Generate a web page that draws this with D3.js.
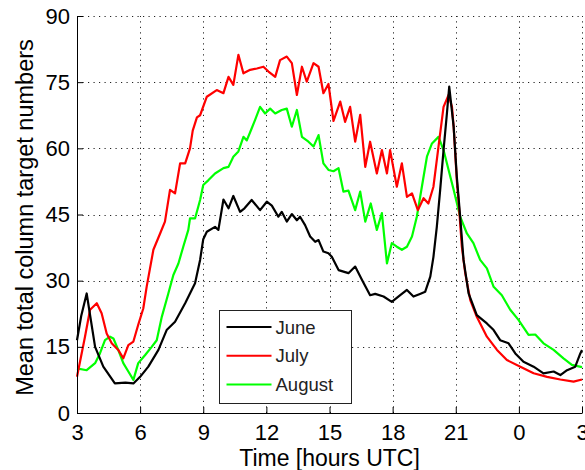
<!DOCTYPE html>
<html>
<head>
<meta charset="utf-8">
<script src="https://cdn.jsdelivr.net/npm/d3@7"></script>
<style>
  body { margin: 0; background: #fff; }
  svg { display: block; font-family: "Liberation Sans", Arial, sans-serif; }
</style>
</head>
<body>
<div class="canvas"></div>
<script>
// Values (hours UTC; values past 24 are the next day)
const xTicks = [3, 6, 9, 12, 15, 18, 21, 24, 27];
const yTicks = [0, 15, 30, 45, 60, 75, 90];
const seriesNames = ['June', 'July', 'August'];

const juneHours = [3.0, 3.2, 3.46, 3.86, 4.25, 4.8, 5.3, 5.68, 6.0, 6.39, 6.87, 7.26, 7.66, 8.14, 8.61, 8.85, 9.0, 9.17, 9.56, 9.72,
  9.96, 10.2, 10.43, 10.75, 10.96, 11.3, 11.7, 12.02, 12.26, 12.57, 12.73, 12.97, 13.21, 13.45, 13.6, 13.84, 14.08, 14.32, 14.48, 14.71,
  14.95, 15.11, 15.43, 15.9, 16.22, 16.54, 16.93, 17.17, 17.57, 17.96, 18.36, 18.68, 18.99, 19.3, 19.55, 19.79, 19.94, 20.1, 20.26, 20.42,
  20.58, 20.69, 20.9, 21.05, 21.21, 21.37, 21.61, 22.0, 22.48, 22.8, 23.11, 23.51, 23.83, 24.22, 24.7, 25.17, 25.65, 25.97, 26.29, 26.68,
  26.92, 27.0];
const juneValues = [16.5, 22, 27.1, 15, 10.5, 6.7, 6.9, 6.7, 8.2, 10.5, 14.3, 18.8, 20.7, 24.9, 29.4, 34.7, 39.4, 41.1, 42.2, 41.5,
  48.4, 46.4, 49.2, 45.6, 46.4, 48.3, 46, 47.9, 47, 44.5, 45.6, 43.4, 45.1, 43.7, 44.5, 42.6, 40, 38.8, 39.2, 36.6,
  36.2, 35.4, 32.4, 31.7, 33.2, 30.2, 26.7, 27, 26.4, 25.2, 26.7, 27.9, 26.4, 27, 27.5, 30.9, 35.4, 42.2, 50.6, 59.6,
  67.9, 74, 64.9, 53.6, 44.5, 34.7, 27.1, 22.2, 20.3, 18.8, 16.5, 15.8, 13.5, 11.6, 10.5, 9.0, 9.4, 8.6, 9.7, 10.5,
  13.5, 14.3];

const julyHours = [3.0, 3.38, 3.62, 3.94, 4.17, 4.41, 4.65, 4.96, 5.2, 5.44, 5.68, 5.91, 6.15, 6.31, 6.63, 6.95, 7.18, 7.42, 7.66, 7.9,
  8.14, 8.37, 8.5, 8.7, 8.85, 9.17, 9.64, 9.96, 10.2, 10.43, 10.67, 10.91, 11.23, 11.55, 11.86, 12.1, 12.42, 12.65, 12.97, 13.21,
  13.45, 13.69, 13.92, 14.24, 14.48, 14.71, 14.95, 15.19, 15.51, 15.74, 15.98, 16.22, 16.46, 16.7, 16.93, 17.25, 17.49, 17.73, 17.88, 18.2,
  18.44, 18.68, 18.92, 19.2, 19.47, 19.7, 19.94, 20.18, 20.42, 20.66, 20.82, 20.9, 21.05, 21.13, 21.29, 21.45, 21.69, 22.0, 22.48, 22.96,
  23.43, 24.07, 24.7, 25.34, 25.97, 26.6, 27.0];
const julyValues = [8.2, 17.3, 23.4, 24.9, 22.6, 18, 15.8, 14.3, 12.4, 15.4, 16.2, 20, 23.7, 28.6, 37, 40.7, 43.4, 50.6, 49.8, 56.6,
  56.6, 60, 64, 67, 67.5, 71.7, 73.2, 72.5, 76.2, 74.4, 81.2, 77, 77.8, 78.1, 78.5, 77.4, 76.2, 80, 80.8, 79.3,
  72.1, 78.5, 75.1, 79.3, 78.5, 72.5, 74.6, 66.2, 70.6, 66, 69.4, 61.5, 67.6, 55.8, 61.5, 54.3, 59.6, 54.3, 59.6, 51.3,
  56.6, 49, 49.8, 46, 48.7, 47.5, 51.3, 60.4, 69.4, 72.1, 69.4, 64.9, 52.8, 48.3, 37.7, 31.7, 25.6, 21.8, 17.3, 14.3,
  12, 10.5, 9.0, 8.2, 7.6, 7.1, 7.6];

const augustHours = [3.0, 3.46, 3.86, 4.09, 4.33, 4.57, 4.73, 4.96, 5.2, 5.44, 5.68, 5.91, 6.23, 6.55, 6.79, 7.03, 7.34, 7.58, 7.82, 8.05,
  8.29, 8.37, 8.61, 8.85, 9.0, 9.25, 9.56, 9.96, 10.2, 10.43, 10.67, 10.91, 11.07, 11.3, 11.46, 11.7, 11.94, 12.18, 12.42, 12.73,
  12.97, 13.21, 13.45, 13.69, 14.0, 14.24, 14.48, 14.71, 14.95, 15.19, 15.43, 15.66, 15.9, 16.22, 16.46, 16.7, 16.96, 17.25, 17.49, 17.73,
  17.96, 18.2, 18.44, 18.68, 18.92, 19.15, 19.39, 19.63, 19.87, 20.18, 20.42, 20.66, 20.9, 21.21, 21.53, 21.84, 22.16, 22.48, 22.8, 23.19,
  23.59, 23.98, 24.46, 24.78, 25.17, 25.65, 26.12, 26.52, 27.0];
const augustValues = [10.1, 9.7, 11.3, 13.5, 16.5, 17.3, 16.9, 14.3, 11.3, 9.4, 7.5, 11.3, 13.1, 15, 16.5, 21.8, 27.1, 31.3, 33.9, 37.7,
  41.5, 44.1, 44.1, 48.3, 51.7, 52.8, 54.3, 55.5, 55.8, 58.1, 59.3, 62.6, 61.8, 64.5, 66.4, 69.4, 67.9, 69, 67.9, 68.7,
  69, 64.9, 68.7, 62.6, 61.5, 60.4, 63, 56.6, 55.1, 54.8, 55.5, 50.2, 50.4, 46, 50.2, 43.4, 47.5, 41.5, 45.3, 33.9,
  38.5, 37.7, 37, 37.7, 40, 44.5, 51.3, 58.1, 61.1, 62.6, 59.6, 55.1, 50.6, 44.5, 40.7, 38.5, 34.7, 32.8, 28.6, 26.7,
  23.4, 21.1, 17.7, 17.8, 15.8, 14.3, 12.4, 10.9, 10.4];

const svgWidth = 585;
const svgHeight = 470;
const margin = { top: 16, right: 3, bottom: 57, left: 77 };

const svg = d3.select('.canvas')
    .append('svg')
    .attr('width', svgWidth)
    .attr('height', svgHeight);

const x = d3.scaleLinear()
    .domain([3, 27])
    .range([margin.left, svgWidth - margin.right]);

const y = d3.scaleLinear()
    .domain([0, 90])
    .range([svgHeight - margin.bottom, margin.top]);

// dotted grid
const grid = svg.append('g').attr('stroke', '#222').attr('stroke-width', 1).attr('stroke-dasharray', '1.2,4.3');
grid.selectAll('.vgrid')
    .data(xTicks.slice(1))
    .enter().append('line')
    .attr('x1', d => Math.round(x(d)) + 0.5).attr('x2', d => Math.round(x(d)) + 0.5)
    .attr('y1', y(0)).attr('y2', y(90));
grid.selectAll('.hgrid')
    .data(yTicks.slice(1))
    .enter().append('line')
    .attr('y1', d => Math.round(y(d)) + 0.5).attr('y2', d => Math.round(y(d)) + 0.5)
    .attr('x1', x(3)).attr('x2', x(27));

// series lines
const series = [
    { name: seriesNames[0], hours: juneHours, values: juneValues, color: '#000000' },
    { name: seriesNames[1], hours: julyHours, values: julyValues, color: '#ff0000' },
    { name: seriesNames[2], hours: augustHours, values: augustValues, color: '#00ff00' }
];

const line = d3.line()
    .x(d => x(d[0]))
    .y(d => y(d[1]));

// draw August first so black sits on top like the original
[series[2], series[1], series[0]].forEach(s => {
    svg.append('path')
        .datum(s.hours.map((h, i) => [h, s.values[i]]))
        .attr('fill', 'none')
        .attr('stroke', s.color)
        .attr('stroke-width', 2.2)
        .attr('stroke-linejoin', 'round')
        .attr('d', line);
});

// axes
const xAxis = d3.axisBottom(x)
    .tickValues(xTicks)
    .tickFormat(d => d % 24)
    .tickSizeInner(-6)
    .tickSizeOuter(0)
    .tickPadding(11);

const yAxis = d3.axisLeft(y)
    .tickValues(yTicks)
    .tickSizeInner(-6)
    .tickSizeOuter(0)
    .tickPadding(7);

const xAxisGroup = svg.append('g')
    .attr('transform', `translate(0, ${y(0)})`)
    .call(xAxis);

const yAxisGroup = svg.append('g')
    .attr('transform', `translate(${x(3)}, 0)`)
    .call(yAxis);

[xAxisGroup, yAxisGroup].forEach(g => {
    g.selectAll('text')
        .attr('fill', '#000')
        .style('font-size', '22px')
        .style('font-family', '"Liberation Sans", Arial, sans-serif');
    g.selectAll('path, line').attr('stroke', '#000');
});

// axis titles
svg.append('text')
    .attr('x', (x(3) + x(27)) / 2)
    .attr('y', 466)
    .attr('text-anchor', 'middle')
    .style('font-size', '23px')
    .text('Time [hours UTC]');

svg.append('text')
    .attr('transform', `translate(33, ${(y(0) + y(90)) / 2 + 3}) rotate(-90)`)
    .attr('text-anchor', 'middle')
    .style('font-size', '23.5px')
    .text('Mean total column target numbers');

// legend
const legend = svg.append('g').attr('transform', 'translate(219.5, 310.5)');

legend.append('rect')
    .attr('width', 132)
    .attr('height', 93)
    .attr('fill', '#fff')
    .attr('stroke', '#222');

const legendRows = legend.selectAll('.legend-row')
    .data(series)
    .enter().append('g')
    .attr('class', 'legend-row')
    .attr('transform', (d, i) => `translate(0, ${16.5 + i * 28.7})`);

legendRows.append('line')
    .attr('x1', 7).attr('x2', 52)
    .attr('stroke', d => d.color)
    .attr('stroke-width', 2);

legendRows.append('text')
    .attr('x', 56)
    .attr('y', 6.5)
    .attr('fill', '#222')
    .style('font-size', '18.5px')
    .text(d => d.name);
</script>
</body>
</html>
